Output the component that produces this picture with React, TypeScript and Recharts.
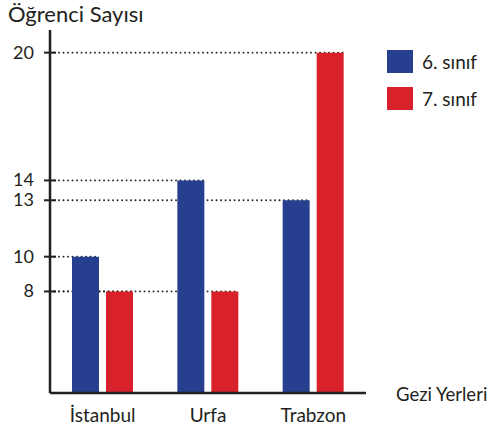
import { BarChart, Bar, XAxis, YAxis, Legend, Label } from "recharts"

document.body.style.margin = "0"

const places = ["İstanbul", "Urfa", "Trabzon"]
const grade6 = [10, 14, 13]
const grade7 = [8, 8, 20]
const yTicks = [8, 10, 13, 14, 20]
const seriesNames = ["6. sınıf", "7. sınıf"]

const BLUE = "#263f8f"
const RED = "#d9212b"
const INK = "#231f20"
const FONT = "Lato, 'Open Sans', sans-serif"
const AXIS_X = 50

const data = places.map((name, i) => ({ name, six: grade6[i], seven: grade7[i] }))

// the value axis in the picture is not drawn to scale; a power scale follows it closely
function powerScale(exponent: number) {
  let dom = [0, 1]
  let rng = [0, 1]
  const scale: any = (v: number) => {
    const t = Math.max((v - dom[0]) / (dom[1] - dom[0]), 0)
    return rng[0] + (rng[1] - rng[0]) * Math.pow(t, exponent)
  }
  scale.domain = (d?: number[]) => {
    if (!d) return dom.slice()
    dom = d.map(Number)
    return scale
  }
  scale.range = (r?: number[]) => {
    if (!r) return rng.slice()
    rng = r.map(Number)
    return scale
  }
  scale.copy = () => powerScale(exponent).domain(dom).range(rng)
  scale.ticks = () => yTicks
  scale.tickFormat = () => (v: number) => String(v)
  return scale
}

function GuideLine(props: any) {
  const { x, y, width } = props
  return (
    <line
      x1={AXIS_X}
      y1={y}
      x2={x + width}
      y2={y}
      stroke={INK}
      strokeWidth={1.8}
      strokeDasharray="0.1 4.4"
      strokeLinecap="round"
    />
  )
}

function YTick({ x, y, payload }: any) {
  return (
    <g>
      <line x1={x - 6} x2={x + 6} y1={y} y2={y} stroke={INK} strokeWidth={2} />
      <text x={x - 16} y={y + 6} textAnchor="end" fontSize={18} fill={INK} fontFamily={FONT}>
        {payload.value}
      </text>
    </g>
  )
}

function XTick({ x, y, payload }: any) {
  return (
    <text x={x} y={y + 29} textAnchor="middle" fontSize={19} fill={INK} fontFamily={FONT}>
      {payload.value}
    </text>
  )
}

function LegendBox() {
  const colors = [BLUE, RED]
  return (
    <div style={{ fontFamily: FONT }}>
      {seriesNames.map((n, i) => (
        <div key={n} style={{ display: "flex", alignItems: "center", height: 23, marginBottom: 14 }}>
          <div style={{ width: 26, height: 23, background: colors[i] }} />
          <span style={{ marginLeft: 9, fontSize: 19, color: INK }}>{n}</span>
        </div>
      ))}
    </div>
  )
}

export default function App() {
  return (
    <BarChart
      width={492}
      height={431}
      data={data}
      margin={{ top: 30, right: 126, bottom: 0, left: 0 }}
      barSize={27}
      barGap={7}
    >
      <XAxis xAxisId="guides" dataKey="name" hide />
      <XAxis
        dataKey="name"
        height={38}
        interval={0}
        tickSize={0}
        tickMargin={0}
        tickLine={false}
        tick={<XTick />}
        axisLine={{ stroke: INK, strokeWidth: 2.5 }}
      >
        <Label
          content={() => (
            <text x={396} y={401} fontSize={18.5} fill={INK} fontFamily={FONT}>
              Gezi Yerleri
            </text>
          )}
        />
      </XAxis>
      <YAxis
        width={AXIS_X}
        type="number"
        domain={[0, 21]}
        scale={powerScale(1.32)}
        ticks={yTicks}
        interval={0}
        tickSize={0}
        tickMargin={0}
        tickLine={false}
        tick={<YTick />}
        axisLine={{ stroke: INK, strokeWidth: 2.5 }}
      >
        <Label
          content={() => (
            <text x={8} y={22} fontSize={22} fill={INK} fontFamily={FONT}>
              Öğrenci Sayısı
            </text>
          )}
        />
      </YAxis>
      <Legend
        layout="horizontal"
        verticalAlign="middle"
        align="center"
        wrapperStyle={{ position: "absolute", top: 50, left: 387, width: 105 }}
        content={<LegendBox />}
      />
      <Bar xAxisId="guides" dataKey="six" shape={<GuideLine />} legendType="none" isAnimationActive={false} />
      <Bar xAxisId="guides" dataKey="seven" shape={<GuideLine />} legendType="none" isAnimationActive={false} />
      <Bar dataKey="six" name={seriesNames[0]} fill={BLUE} isAnimationActive={false} />
      <Bar dataKey="seven" name={seriesNames[1]} fill={RED} isAnimationActive={false} />
    </BarChart>
  )
}
